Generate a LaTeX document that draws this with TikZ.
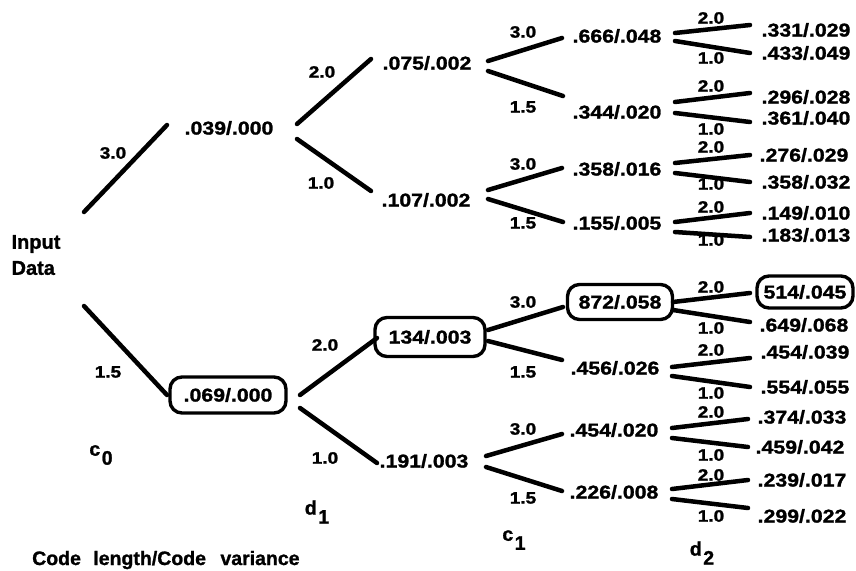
\documentclass[tikz,border=0pt]{standalone}
\usepackage{fontspec}
\setmainfont{Liberation Sans}
\newfontfamily\valfont{Liberation Sans}[UprightFont=* Bold, FakeStretch=1.15, FakeBold=1.5]
\newfontfamily\wtfont{Liberation Sans}[UprightFont=* Bold, FakeStretch=1.15, FakeBold=1.5]
\newfontfamily\txtfont{Liberation Sans}[UprightFont=* Bold, FakeBold=1.2]
\usetikzlibrary{calc}

\tikzset{
  val/.style={font=\valfont\fontsize{18.5}{20}\selectfont, inner sep=0pt},
  pick/.style={val, draw, line width=3.4pt, rounded corners=12pt},
  wt/.style={font=\wtfont\fontsize{16.5}{18}\selectfont, inner sep=0pt},
  lvl/.style={font=\txtfont\fontsize{19.5}{21}\selectfont, inner sep=0pt},
  branch/.style={line width=4.5pt, line cap=round},
}
\newcommand\br[4]{\draw[branch] ($(#1)+(#2)$) -- ($(#3)+(#4)$);}
\newcommand\sbs[2]{#1\kern1.5pt\raisebox{-9pt}{#2}}

\begin{document}
\begin{tikzpicture}[x=1pt,y=-1pt]
\useasboundingbox (0,0) rectangle (856,570);

% root
\node[font=\txtfont\fontsize{20}{26}\selectfont, align=left, inner sep=0pt] (in) at (36,255) {Input\\Data};

% first coding stage
\node[val] (a1) at (229,128) {.039/.000};
\node[pick, minimum width=116pt, minimum height=36pt] (a2) at (228,395) {.069/.000};

% first decision stage
\node[val] (b1) at (427,63) {.075/.002};
\node[val] (b2) at (426,200) {.107/.002};
\node[pick, minimum width=110pt, minimum height=39pt] (b3) at (430,337) {134/.003};
\node[val] (b4) at (424,461) {.191/.003};

% second coding stage
\node[val] (c1) at (617,36) {.666/.048};
\node[val] (c2) at (617,112) {.344/.020};
\node[val] (c3) at (617,169) {.358/.016};
\node[val] (c4) at (617,223) {.155/.005};
\node[pick, minimum width=105pt, minimum height=35pt] (c5) at (620,302) {872/.058};
\node[val] (c6) at (615,368) {.456/.026};
\node[val] (c7) at (614,430) {.454/.020};
\node[val] (c8) at (614,492) {.226/.008};

% second decision stage
\node[val] (l1) at (806,30) {.331/.029};
\node[val] (l2) at (806,53) {.433/.049};
\node[val] (l3) at (806,97) {.296/.028};
\node[val] (l4) at (806,118) {.361/.040};
\node[val] (l5) at (804,155) {.276/.029};
\node[val] (l6) at (806,182) {.358/.032};
\node[val] (l7) at (806,213) {.149/.010};
\node[val] (l8) at (806,235) {.183/.013};
\node[pick, minimum width=96pt, minimum height=32pt] (l9) at (805,292) {514/.045};
\node[val] (l10) at (804,325) {.649/.068};
\node[val] (l11) at (805,352) {.454/.039};
\node[val] (l12) at (805,387) {.554/.055};
\node[val] (l13) at (802,417) {.374/.033};
\node[val] (l14) at (800,447) {.459/.042};
\node[val] (l15) at (802,480) {.239/.017};
\node[val] (l16) at (802,516) {.299/.022};

% branches
\br{in}{48,-43}{a1}{-62,-3}
\br{in}{48,51}{a2}{-61,0}
\br{a1}{68,-4}{b1}{-56,-4}
\br{a1}{68,11}{b2}{-55,-9}
\br{a2}{72,0}{b3}{-53,1}
\br{a2}{72,13}{b4}{-47,2}
\br{b1}{61,-2}{c1}{-55,2}
\br{b1}{61,8}{c2}{-54,-16}
\br{b2}{62,-10}{c3}{-55,-1}
\br{b2}{62,-1}{c4}{-54,-1}
\br{b3}{58,-7}{c5}{-57,5}
\br{b3}{58,4}{c6}{-53,-8}
\br{b4}{62,-5}{c7}{-52,4}
\br{b4}{62,6}{c8}{-52,-1}
\br{c1}{58,-3}{l1}{-56,-5}
\br{c1}{58,5}{l2}{-56,0}
\br{c2}{58,-10}{l3}{-56,-4}
\br{c2}{58,1}{l4}{-56,4}
\br{c3}{58,-6}{l5}{-54,0}
\br{c3}{58,4}{l6}{-56,0}
\br{c4}{58,-1}{l7}{-56,0}
\br{c4}{58,9}{l8}{-56,2}
\br{c5}{53,0}{l9}{-55,1}
\br{c5}{53,8}{l10}{-54,-3}
\br{c6}{57,-1}{l11}{-55,6}
\br{c6}{57,8}{l12}{-55,0}
\br{c7}{58,-2}{l13}{-54,2}
\br{c7}{58,8}{l14}{-52,0}
\br{c8}{58,-3}{l15}{-54,0}
\br{c8}{58,7}{l16}{-54,-8}

% branch weights
\node[wt] at (113,153) {3.0};
\node[wt] at (108,372) {1.5};
\node[wt] at (322,72) {2.0};
\node[wt] at (321,183) {1.0};
\node[wt] at (325,345) {2.0};
\node[wt] at (325,458) {1.0};
\foreach \y/\t in {32/3.0,107/1.5,164/3.0,223/1.5,302/3.0,372/1.5,429/3.0,498/1.5}
  \node[wt] at (523,\y) {\t};
\foreach \y/\t in {18/2.0,58/1.0,86/2.0,129/1.0,147/2.0,184/1.0,207/2.0,240/1.0,
                   287/2.0,328/1.0,350/2.0,393/1.0,412/2.0,455/1.0,475/2.0,516/1.0}
  \node[wt] at (711,\y) {\t};

% stage labels
\node[lvl] (s0) at (101,455) {\sbs{c}{0}};
\node[lvl] (s1) at (317,512) {\sbs{d}{1}};
\node[lvl] (s2) at (514,540) {\sbs{c}{1}};
\node[lvl] (s3) at (702,553) {\sbs{d}{2}};

\node[font=\txtfont\fontsize{19.5}{22}\selectfont, anchor=west, inner sep=0pt] (key) at (32,560)
  {Code\hspace{7pt} length/Code\hspace{9pt} variance};
\end{tikzpicture}
\end{document}
